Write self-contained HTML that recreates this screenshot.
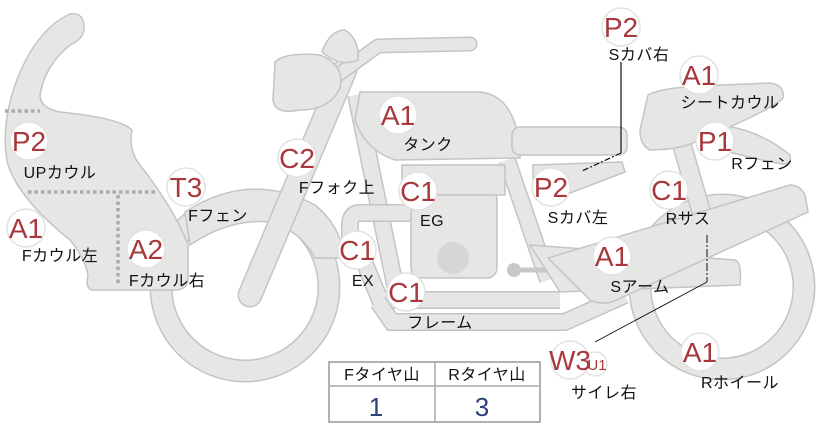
<!DOCTYPE html>
<html><head><meta charset="utf-8"><style>
body{margin:0;background:#fff;width:822px;height:425px;overflow:hidden}
svg{display:block}
.s{fill:#e6e6e4;stroke:#c4c4c2;stroke-width:1.5}
.b circle{fill:#fff;stroke:#e2e2e2;stroke-width:1.5}
.b text{font-family:"Liberation Sans",sans-serif;font-size:28px;fill:#a8383c;text-anchor:middle}
.l{font-family:"Liberation Sans","Noto Sans CJK JP",sans-serif;font-size:16px;fill:#111;text-anchor:middle;letter-spacing:0.5px}
</style></head><body>
<svg width="822" height="425" viewBox="0 0 822 425">
<!-- front wheel -->
<circle cx="245" cy="287" r="84" fill="none" stroke="#c4c4c2" stroke-width="23"/>
<circle cx="245" cy="287" r="84" fill="none" stroke="#e6e6e4" stroke-width="20"/>
<!-- rear wheel -->
<circle cx="722" cy="287" r="82" fill="none" stroke="#c4c4c2" stroke-width="23"/>
<circle cx="722" cy="287" r="82" fill="none" stroke="#e6e6e4" stroke-width="20"/>
<!-- front fender -->
<path class="s" d="M185,212 Q250,170 315,205 Q340,225 345,258 L315,258 Q300,230 270,222 Q230,218 190,245 Z"/>
<!-- cowl -->
<path class="s" d="M70,14 Q85,12 84,30 Q82,40 70,45 Q45,65 40,95 Q40,108 60,112 Q120,118 132,130 Q128,150 140,165 Q175,210 188,245 L188,282 Q185,290 175,290 L92,290 Q85,288 88,275 Q85,258 70,240 Q20,200 8,165 Q0,130 15,85 Q35,30 70,14 Z"/>
<path d="M5,111 H40 M28,192 H155 M118,195 V285" stroke="#aaa" stroke-width="3.5" stroke-dasharray="3.5,3" fill="none"/>
<!-- fork -->
<path d="M345,70 L250,295" stroke="#c4c4c2" stroke-width="25" stroke-linecap="round"/>
<path d="M345,70 L250,295" stroke="#e6e6e4" stroke-width="22" stroke-linecap="round"/>
<!-- handlebar -->
<path d="M338,75 L378,46 L470,44" fill="none" stroke="#c4c4c2" stroke-width="15" stroke-linecap="round" stroke-linejoin="round"/>
<path d="M338,75 L378,46 L470,44" fill="none" stroke="#e6e6e4" stroke-width="12" stroke-linecap="round" stroke-linejoin="round"/>
<!-- headlight & meter -->
<path class="s" d="M322,52 Q330,30 345,30 Q360,40 358,60 Q340,68 322,52 Z"/>
<path class="s" d="M275,62 Q285,52 320,55 Q345,65 340,88 Q330,110 300,110 Q275,115 273,100 Z"/>
<!-- frame tubes -->
<path d="M356,95 L398,300 M507,160 L548,280" stroke="#c4c4c2" stroke-width="18"/>
<path d="M356,95 L398,300 M507,160 L548,280" stroke="#e6e6e4" stroke-width="15"/>
<!-- rear shock -->
<path d="M682,145 L705,225" stroke="#c4c4c2" stroke-width="20"/>
<path d="M682,145 L705,225" stroke="#e6e6e4" stroke-width="17"/>
<!-- exhaust -->
<path d="M415,213 L360,213 Q350,213 350,225 L350,240 Q350,250 360,252 L380,300 L560,300" fill="none" stroke="#c4c4c2" stroke-width="18"/>
<path d="M415,213 L360,213 Q350,213 350,225 L350,240 Q350,250 360,252 L380,300 L560,300" fill="none" stroke="#e6e6e4" stroke-width="15"/>
<!-- bottom frame -->
<path d="M378,302 L392,322 L565,322 L625,295" fill="none" stroke="#c4c4c2" stroke-width="18"/>
<path d="M378,302 L392,322 L565,322 L625,295" fill="none" stroke="#e6e6e4" stroke-width="15"/>
<!-- engine -->
<rect class="s" x="411" y="190" width="86" height="88" rx="10"/>
<rect class="s" x="402" y="165" width="103" height="30"/>
<circle cx="453" cy="258" r="16" fill="#d6d6d6"/>
<path d="M512,270 H556" stroke="#c8c8c8" stroke-width="5"/>
<circle cx="514" cy="270" r="7" fill="#c8c8c8"/><circle cx="554" cy="270" r="7" fill="#c8c8c8"/>
<!-- tank -->
<path class="s" d="M360,92 L480,92 Q510,95 518,135 L520,158 L395,160 Q365,150 355,120 Z"/>
<!-- seat -->
<rect class="s" x="512" y="127" width="115" height="28" rx="8"/>
<path class="s" d="M533,165 L622,162 L625,172 L565,195 L533,190 Z"/>
<!-- rear fender -->
<path class="s" d="M720,125 Q760,130 790,155 Q792,165 782,164 Q750,158 722,150 Z"/>
<!-- seat cowl -->
<path class="s" d="M648,95 Q660,88 700,86 L770,83 Q785,85 783,98 Q775,108 700,140 Q680,150 650,150 Q640,145 640,130 Z"/>
<!-- lower arm -->
<path class="s" d="M530,245 L735,260 Q742,262 740,285 L560,292 Z"/>
<!-- swing arm -->
<path class="s" d="M548,258 L790,185 Q800,185 805,195 L808,212 L612,302 Q600,305 590,300 Z"/>
<!-- connectors -->
<path d="M621,62 V153" fill="none" stroke="#111" stroke-width="1.2"/>
<path d="M621,153 L582,171" fill="none" stroke="#111" stroke-width="1.2" stroke-dasharray="6,2,2,2"/>
<path d="M707,235 V282" fill="none" stroke="#111" stroke-width="1" stroke-dasharray="8,2,2,2"/>
<path d="M707,282 L595,342" fill="none" stroke="#111" stroke-width="0.9"/>
<!-- badges -->
<g class="b">
<circle cx="621" cy="27" r="19"/><text x="621" y="37">P2</text>
<circle cx="699" cy="75" r="19"/><text x="699" y="85">A1</text>
<circle cx="715" cy="141" r="19"/><text x="715" y="151">P1</text>
<circle cx="669" cy="190" r="19"/><text x="669" y="200">C1</text>
<circle cx="551" cy="187" r="19"/><text x="551" y="197">P2</text>
<circle cx="612" cy="256" r="19"/><text x="612" y="266">A1</text>
<circle cx="700" cy="352" r="19"/><text x="700" y="362">A1</text>
<circle cx="595" cy="364" r="12"/>
<circle cx="570" cy="360" r="19"/>
<text x="570" y="370">W3</text>
<text x="597" y="370" style="font-size:15px">U1</text>
<circle cx="398" cy="115" r="19"/><text x="398" y="125">A1</text>
<circle cx="418" cy="191" r="19"/><text x="418" y="201">C1</text>
<circle cx="297" cy="158" r="19"/><text x="297" y="168">C2</text>
<circle cx="357" cy="250" r="19"/><text x="357" y="260">C1</text>
<circle cx="406" cy="292" r="19"/><text x="406" y="302">C1</text>
<circle cx="186" cy="187" r="19"/><text x="186" y="197">T3</text>
<circle cx="146" cy="249" r="19"/><text x="146" y="259">A2</text>
<circle cx="29" cy="141" r="19"/><text x="29" y="151">P2</text>
<circle cx="26" cy="228" r="19"/><text x="26" y="238">A1</text>
</g>
<g class="l">
<text x="639" y="60">Sカバ右</text>
<text x="730" y="108">シートカウル</text>
<text x="762" y="169">Rフェン</text>
<text x="688" y="224">Rサス</text>
<text x="578" y="223">Sカバ左</text>
<text x="640" y="292">Sアーム</text>
<text x="740" y="388">Rホイール</text>
<text x="604" y="398">サイレ右</text>
<text x="428" y="150">タンク</text>
<text x="432" y="226">EG</text>
<text x="337" y="193">Fフォク上</text>
<text x="363" y="286">EX</text>
<text x="440" y="328">フレーム</text>
<text x="218" y="221">Fフェン</text>
<text x="167" y="286">Fカウル右</text>
<text x="60" y="178">UPカウル</text>
<text x="60" y="261">Fカウル左</text>
</g>
<!-- table -->
<rect x="329" y="362" width="211" height="60" fill="#fff" stroke="#999" stroke-width="1.5"/>
<path d="M329,386 H540 M435,362 V422" stroke="#aaa" stroke-width="1.5"/>
<text class="l" x="382" y="380">Fタイヤ山</text>
<text class="l" x="487" y="380">Rタイヤ山</text>
<text x="376" y="416" style="font-family:'Liberation Sans',sans-serif;font-size:26px;fill:#2c4178;text-anchor:middle">1</text>
<text x="482" y="416" style="font-family:'Liberation Sans',sans-serif;font-size:26px;fill:#2c4178;text-anchor:middle">3</text>
</svg>
</body></html>
